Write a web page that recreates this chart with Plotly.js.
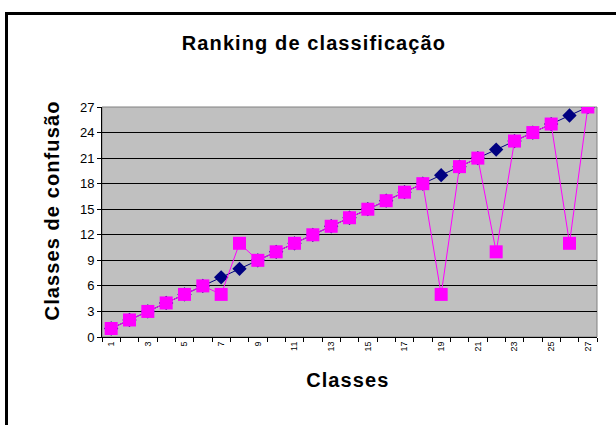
<!DOCTYPE html>
<html><head><meta charset="utf-8">
<script src="https://cdn.plot.ly/plotly-3.0.1.min.js"></script>
<style>
html,body{margin:0;padding:0;background:#fff;width:616px;height:425px;overflow:hidden;}
#frame{position:absolute;left:5px;top:12px;width:700px;height:500px;border:3px solid #000;box-sizing:border-box;}
#chart{position:absolute;left:0;top:0;width:616px;height:425px;}
#chart .annotation-text{letter-spacing:1.1px;}
</style></head>
<body>
<div id="frame"></div>
<div id="chart"></div>
<script>
const classes = [1,2,3,4,5,6,7,8,9,10,11,12,13,14,15,16,17,18,19,20,21,22,23,24,25,26,27];
const ideal = [1,2,3,4,5,6,7,8,9,10,11,12,13,14,15,16,17,18,19,20,21,22,23,24,25,26,27];
const ranking = [1,2,3,4,5,6,5,11,9,10,11,12,13,14,15,16,17,18,5,20,21,10,23,24,25,11,27];
const xTickVals = [1,3,5,7,9,11,13,15,17,19,21,23,25,27];
const yTickVals = [0,3,6,9,12,15,18,21,24,27];
const chartTitle = 'Ranking de classificação';
const xTitle = 'Classes';
const yTitle = 'Classes de confusão';

const traces = [
  {x: classes, y: ideal, type:'scatter', mode:'lines+markers',
   line:{color:'#000080', width:1},
   marker:{symbol:'diamond', size:11, color:'#000080'}},
  {x: classes, y: ranking, type:'scatter', mode:'lines+markers',
   line:{color:'#FF00FF', width:1},
   marker:{symbol:'square', size:13, color:'#FF00FF'}}
];
const tfont = {family:'Liberation Sans, Arial, sans-serif', size:20, color:'#000'};
const layout = {
  width:616, height:425,
  margin:{l:102, r:19, t:107, b:88},
  paper_bgcolor:'rgba(0,0,0,0)',
  plot_bgcolor:'#C0C0C0',
  showlegend:false,
  font:{family:'Liberation Sans, Arial, sans-serif', color:'#000'},
  xaxis:{range:[0.5,27.5], tickmode:'array', tickvals:xTickVals, ticktext:xTickVals.map(String),
    tickangle:-90, tickfont:{size:9}, ticks:'', showgrid:false, zeroline:false,
    showline:true, linecolor:'#000', linewidth:1, mirror:false,
    minor:{tick0:0.5, dtick:1, ticks:'outside', ticklen:4, tickcolor:'#000', showgrid:false}},
  yaxis:{range:[0,27], tickmode:'array', tickvals:yTickVals, ticks:'outside', ticklen:4, tickcolor:'#000',
    tickfont:{size:13}, showgrid:true, gridcolor:'#000', gridwidth:1, zeroline:false,
    showline:true, linecolor:'#000', linewidth:1},
  annotations:[
    {text:'<b>'+chartTitle+'</b>', xref:'paper', yref:'paper', x:0.428, y:1.278, xanchor:'center', yanchor:'middle', showarrow:false, font:tfont},
    {text:'<b>'+xTitle+'</b>', xref:'paper', yref:'paper', x:0.497, y:-0.187, xanchor:'center', yanchor:'middle', showarrow:false, font:tfont},
    {text:'<b>'+yTitle+'</b>', xref:'paper', yref:'paper', x:-0.101, y:0.548, xanchor:'center', yanchor:'middle', showarrow:false, textangle:-90, font:tfont}
  ],
  shapes:[{type:'rect', xref:'paper', yref:'paper', x0:0, x1:1, y0:0, y1:1, line:{color:'#808080', width:1}, layer:'below'}]
};
Plotly.newPlot('chart', traces, layout, {displayModeBar:false, staticPlot:true});
</script>
</body></html>
